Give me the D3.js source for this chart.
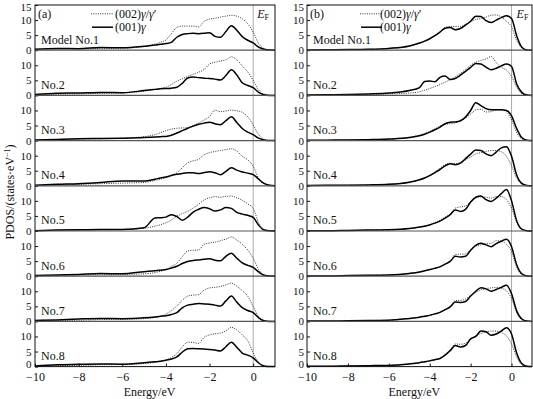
<html>
<script src='https://d3js.org/d3.v7.min.js'></script>
<head>
<style>
  body {margin:0; background:white;}
  svg {display:block; font-family:"Liberation Serif","Times New Roman",serif;}
  svg text {font-family:"Liberation Serif","Times New Roman",serif; fill:#111;}
</style>
</head>
<body>
<svg width=533 height=399></svg>
<script>

// energy grid (eV) shared by every curve
var energy = [-10,-9,-8,-7,-6,-5,-4.5,-4.25,-4,-3.75,-3.5,-3.25,-3,-2.75,-2.5,-2.25,-2,-1.75,-1.5,-1.25,-1,-0.75,-0.5,-0.25,0,0.25,0.5,0.75,1];
var models = ["Model No.1","No.2","No.3","No.4","No.5","No.6","No.7","No.8"];
var yTicks = [0,5,10];
var xTicks = [-10,-8,-6,-4,-2,0];

// (a) (002)γ/γ' - dotted
var pdosA002 = [
  [0.3,0.4,0.4,0.6,0.7, 1.2,2.0,2.6,3.4,5.5, 7.6,8.0,8.0,8.0,7.7, 9.6,10.3,10.6,11.0,11.3, 11.6,11.3,10.4,8.8,6.0, 2.2,0.5,0.1,0],
  [0.2,0.4,0.5,0.7,0.8, 1.4,2.0,2.3,2.7,3.6, 4.7,5.5,6.3,7.0,7.7, 8.6,10.4,11.0,11.4,11.8, 12.8,11.8,9.8,7.8,5.0, 1.8,0.4,0.1,0],
  [0.1,0.3,0.5,0.6,0.8, 1.3,2.0,2.6,3.3,3.8, 4.1,4.2,4.3,5.0,5.8, 6.8,8.0,10.1,9.6,9.8, 10.1,9.9,9.4,7.9,5.2, 2.0,0.4,0.1,0],
  [0.1,0.3,0.5,0.7,0.9, 1.1,1.8,2.2,2.7,3.5, 4.3,6.0,7.6,8.3,8.8, 10.3,11.0,11.4,11.7,12.0, 12.3,11.5,9.8,8.6,6.5, 2.4,0.6,0.1,0],
  [0.1,0.2,0.3,0.4,0.5, 0.9,1.6,2.1,2.7,3.6, 4.9,5.8,6.5,7.6,8.9, 10.3,11.0,11.4,11.2,11.5, 11.6,11.0,10.2,9.0,7.5, 2.8,0.6,0.1,0],
  [0.1,0.2,0.4,0.5,0.6, 0.8,1.2,1.6,2.2,3.2, 4.3,6.5,8.4,8.6,8.7, 10.6,11.0,11.3,11.8,12.3, 13.0,12.0,10.6,8.7,6.0, 2.2,0.4,0.1,0],
  [0.2,0.3,0.4,0.6,0.7, 0.9,1.3,1.7,2.4,3.6, 5.1,7.0,8.4,8.7,8.9, 10.4,11.1,11.3,11.6,12.1, 12.7,11.7,10.2,8.4,5.0, 1.6,0.3,0.05,0],
  [0.1,0.3,0.4,0.6,0.7, 1.0,1.4,1.8,2.2,3.0, 4.3,6.5,8.1,8.0,7.7, 9.7,10.5,10.9,11.1,11.9, 13.0,12.2,10.5,8.6,4.6, 1.4,0.3,0.05,0]
];
// (a) (001)γ - solid
var pdosA001 = [
  [0.3,0.6,0.5,0.9,0.8, 1.3,1.7,2.0,2.2,2.6, 4.3,5.2,5.5,5.6,5.5, 5.6,5.8,4.6,4.3,6.2, 8.1,6.6,4.5,3.3,2.4, 1.0,0.3,0.05,0],
  [0.3,0.7,0.8,1.0,0.9, 1.6,2.0,2.2,2.3,2.4, 2.7,4.0,5.8,6.1,5.9, 5.7,5.6,5.4,5.1,6.6, 8.5,6.8,4.2,3.3,2.6, 1.0,0.2,0,0],
  [0.2,0.4,0.6,0.7,0.8, 1.0,1.2,1.3,1.4,1.8, 2.5,3.3,4.1,4.8,5.4, 5.8,6.1,5.6,5.3,6.6, 7.9,6.0,4.0,2.8,2.0, 0.8,0.2,0,0],
  [0.2,0.5,0.7,1.1,1.6, 1.6,2.2,2.6,2.9,3.4, 3.8,4.1,4.3,4.3,4.1, 4.4,4.7,4.3,3.7,4.8, 6.0,5.2,4.6,4.2,3.7, 2.2,0.8,0.2,0],
  [0.1,0.3,0.4,0.5,0.5, 1.1,4.3,4.4,4.6,5.4, 4.8,3.6,4.6,6.3,7.2, 7.8,7.4,6.6,7.0,7.8, 7.5,6.2,5.6,5.2,4.5, 1.9,0.3,0.05,0],
  [0.2,0.4,0.6,0.9,0.8, 1.5,1.8,2.0,2.2,2.7, 3.3,4.2,4.9,5.2,5.4, 5.6,5.8,5.3,5.1,6.6, 7.6,6.0,4.4,3.6,2.9, 1.4,0.3,0.05,0],
  [0.3,0.5,0.8,1.0,0.9, 1.2,1.5,1.7,1.9,2.3, 2.9,4.5,5.4,5.7,5.9, 5.8,5.7,5.4,5.1,6.8, 8.4,6.4,4.6,3.6,2.9, 1.2,0.2,0,0],
  [0.2,0.6,0.8,0.9,0.8, 1.3,1.6,1.8,2.1,2.5, 3.2,4.8,5.9,6.0,5.9, 5.8,5.7,5.5,5.2,6.6, 8.1,6.4,4.5,3.8,2.9, 1.2,0.2,0,0]
];
// (b) (002)γ/γ' - dotted
var pdosB002 = [
  [0.1,0.15,0.2,0.3,0.6, 1.3,2.3,2.9,3.7,4.7, 6.0,7.6,7.9,7.9,7.9, 8.6,9.5,10.2,10.5,11.0, 11.6,11.7,11.0,9.6,7.8, 3.2,0.8,0.1,0],
  [0.1,0.1,0.2,0.3,0.5, 0.8,1.2,1.7,2.3,2.9, 3.6,4.4,5.2,6.2,7.3, 8.6,10.0,11.0,11.6,12.1, 12.9,10.9,9.3,8.4,6.3, 2.8,0.6,0.1,0],
  [0.1,0.15,0.2,0.3,0.5, 1.1,1.8,2.4,3.0,3.9, 4.8,5.4,5.6,5.9,6.6, 7.6,8.8,10.2,10.4,9.5, 9.6,10.2,10.2,9.6,6.8, 2.6,0.6,0.1,0],
  [0.1,0.15,0.2,0.3,0.5, 1.2,2.0,2.7,3.5,4.6, 5.8,7.0,7.5,7.4,7.7, 8.6,9.6,10.6,11.0,11.4, 11.7,11.7,11.3,9.8,6.6, 2.5,0.6,0.1,0],
  [0.1,0.1,0.2,0.3,0.4, 0.8,1.3,1.7,2.1,2.8, 3.6,4.6,5.6,7.6,8.0, 8.3,9.8,10.9,11.3,11.2, 10.9,11.4,11.4,10.4,7.6, 3.0,0.5,0.1,0],
  [0.1,0.1,0.2,0.3,0.4, 0.9,1.4,1.8,2.2,2.7, 3.2,4.1,5.0,7.2,7.3, 7.4,8.8,10.0,10.4,10.7, 10.9,11.8,11.6,10.6,8.2, 3.0,0.6,0.1,0],
  [0.1,0.1,0.2,0.3,0.4, 1.0,1.4,1.7,2.0,2.5, 3.0,3.9,4.9,6.9,7.0, 7.4,8.6,9.6,10.5,10.9, 11.1,11.3,11.0,10.2,7.6, 3.0,0.6,0.1,0],
  [0.1,0.1,0.2,0.3,0.4, 0.9,1.3,1.6,1.9,2.3, 2.8,3.9,5.4,7.5,7.4, 7.8,9.0,10.2,11.0,11.5, 11.8,11.8,11.3,10.2,7.5, 3.2,0.6,0.1,0]
];
// (b) (001)γ - solid
var pdosB001 = [
  [0.1,0.15,0.2,0.3,0.6, 1.4,2.4,3.0,3.8,4.8, 6.0,7.3,7.5,6.8,7.2, 8.3,9.6,11.3,11.2,9.8, 9.2,10.0,10.8,11.4,10.5, 4.8,1.0,0.1,0],
  [0.1,0.2,0.3,0.5,0.8, 1.6,2.6,4.6,4.8,4.5, 6.0,6.4,5.3,5.6,6.7, 8.0,9.3,10.6,10.4,9.4, 8.5,9.0,9.8,10.4,9.6, 3.8,1.0,0.1,0],
  [0.1,0.15,0.2,0.3,0.5, 1.0,1.6,2.1,2.8,3.6, 4.5,5.6,6.1,6.2,6.6, 7.8,10.0,12.6,11.6,10.6, 10.2,10.2,10.2,10.0,8.2, 4.0,1.0,0.1,0],
  [0.1,0.15,0.2,0.3,0.5, 1.2,2.0,2.6,3.4,4.4, 5.4,6.6,7.3,7.0,7.5, 9.0,10.5,11.9,11.7,10.6, 10.0,11.2,12.6,13.0,9.8, 3.6,0.8,0.1,0],
  [0.1,0.1,0.2,0.3,0.4, 0.8,1.3,1.6,2.0,2.6, 3.3,4.3,5.4,7.0,6.5, 7.2,9.6,11.2,11.6,10.4, 9.8,10.9,12.4,13.8,10.0, 3.4,0.6,0.1,0],
  [0.1,0.1,0.2,0.3,0.4, 0.9,1.4,1.8,2.2,2.6, 3.1,4.0,4.9,6.6,6.4, 6.6,8.6,10.2,10.9,10.4, 9.8,10.8,11.6,12.3,9.8, 3.8,0.8,0.1,0],
  [0.1,0.1,0.2,0.3,0.4, 1.0,1.4,1.7,2.0,2.5, 3.0,3.9,4.8,6.4,6.3, 6.6,8.4,10.0,11.2,10.8, 10.0,10.6,11.3,12.0,9.2, 3.5,0.8,0.1,0],
  [0.1,0.1,0.2,0.3,0.4, 0.9,1.3,1.6,1.9,2.3, 2.7,3.8,5.3,7.0,6.5, 7.0,9.2,10.0,11.8,11.6, 10.4,10.8,11.8,12.9,10.8, 4.5,1.0,0.1,0]
];

var svg = d3.select("svg");
var top0 = 5, subH = 45.2, nSub = models.length;
var bottom = top0 + subH*nSub;

var panels = [
  {name:"(a)", left:35, right:275, d002:pdosA002, d001:pdosA001, legX:56, legT:80, efOff:4, ypad:3.5},
  {name:"(b)", left:307, right:532, d002:pdosB002, d001:pdosB001, legX:53, legT:73, efOff:5, ypad:3}
];

function styleAxis(ax, size){
  ax.select(".domain").remove();
  ax.attr("font-family", null).attr("font-size", null);
  ax.selectAll("line").attr("stroke","#111");
  ax.selectAll("text").style("font-size",size).attr("fill","#111");
}

panels.forEach(function(p){
  var x = d3.scaleLinear().domain([-10,1]).range([p.left,p.right]);
  var g = svg.append("g");

  // Fermi level
  g.append("line")
    .attr("x1",x(0)).attr("x2",x(0))
    .attr("y1",top0).attr("y2",bottom)
    .attr("stroke","#aaa").attr("stroke-width",1);

  for (var i=0;i<nSub;i++){
    var t = top0 + i*subH;
    var y = d3.scaleLinear().domain([0,15]).range([t+subH, t]);
    var line = d3.line()
      .x(function(d,j){return x(energy[j]);})
      .y(function(d){return y(d);})
      .curve(d3.curveMonotoneX);

    g.append("path").datum(p.d002[i]).attr("d",line)
      .attr("fill","none").attr("stroke","#333")
      .attr("stroke-width",1).attr("stroke-dasharray","1,1.3");
    g.append("path").datum(p.d001[i]).attr("d",line)
      .attr("fill","none").attr("stroke","#000")
      .attr("stroke-width",1.5);

    var ax = g.append("g")
      .attr("transform","translate("+p.left+",0)")
      .call(d3.axisLeft(y).tickValues(i==0 ? [0,5,10,15] : yTicks)
        .tickSize(-3).tickPadding(p.ypad).tickFormat(d3.format("d")));
    styleAxis(ax, "11px");
    // keep the top "15" inside the picture, and the bottom "0" clear of the x labels
    ax.selectAll(".tick").filter(function(d){return d==15;}).select("text").attr("dy","0.5em");
    if (i==nSub-1) ax.selectAll(".tick").filter(function(d){return d==0;}).select("text").attr("dy","0.05em");

    if (i>0) {
      g.append("line")
        .attr("x1",p.left).attr("x2",p.right)
        .attr("y1",t).attr("y2",t)
        .attr("stroke","#555").attr("stroke-width",1.2);
    }

    g.append("text")
      .attr("x",p.left+6).attr("y",t+38.5)
      .style("font-size","12px")
      .text(models[i]);
  }

  // frame
  g.append("rect")
    .attr("x",p.left).attr("y",top0)
    .attr("width",p.right-p.left).attr("height",bottom-top0)
    .attr("fill","none").attr("stroke","#111").attr("stroke-width",1);

  // x axis
  var xa = g.append("g")
    .attr("transform","translate(0,"+bottom+")")
    .call(d3.axisBottom(x).tickValues(xTicks).tickSize(-3).tickPadding(6));
  styleAxis(xa, "12px");

  g.append("text")
    .attr("x",x(-4.75)).attr("y",395.5)
    .attr("text-anchor","middle")
    .style("font-size","12px")
    .text("Energy/eV");

  // panel letter
  g.append("text")
    .attr("x",p.left+3).attr("y",17.5)
    .style("font-size","12px")
    .text(p.name);

  // Fermi label
  var ef = g.append("text")
    .attr("x",x(0)+p.efOff).attr("y",17.5)
    .style("font-size","12px");
  ef.append("tspan").style("font-style","italic").text("E");
  ef.append("tspan").attr("dy",2.5).style("font-size","8px").text("F");

  // legend
  var lx = p.left+p.legX;
  g.append("line").attr("x1",lx).attr("x2",lx+22).attr("y1",13.8).attr("y2",13.8)
    .attr("stroke","#333").attr("stroke-width",1).attr("stroke-dasharray","1,1.3");
  g.append("line").attr("x1",lx+1).attr("x2",lx+22).attr("y1",27.2).attr("y2",27.2)
    .attr("stroke","#000").attr("stroke-width",1.5);

  var t1 = g.append("text").attr("x",p.left+p.legT).attr("y",17.8).style("font-size","12px");
  t1.append("tspan").text("(002)");
  t1.append("tspan").style("font-style","italic").text("γ");
  t1.append("tspan").text("/");
  t1.append("tspan").style("font-style","italic").text("γ");
  t1.append("tspan").text("′");

  var t2 = g.append("text").attr("x",p.left+p.legT).attr("y",31.2).style("font-size","12px");
  t2.append("tspan").text("(001)");
  t2.append("tspan").style("font-style","italic").text("γ");
});

// y axis title
var yt = svg.append("text")
  .attr("transform","translate(14,192) rotate(-90)")
  .attr("text-anchor","middle")
  .style("font-size","12px");
yt.append("tspan").text("PDOS/(states·eV");
yt.append("tspan").attr("dy",-4).style("font-size","8px").text("−1");
yt.append("tspan").attr("dy",4).text(")");

</script>
</body>
</html>
